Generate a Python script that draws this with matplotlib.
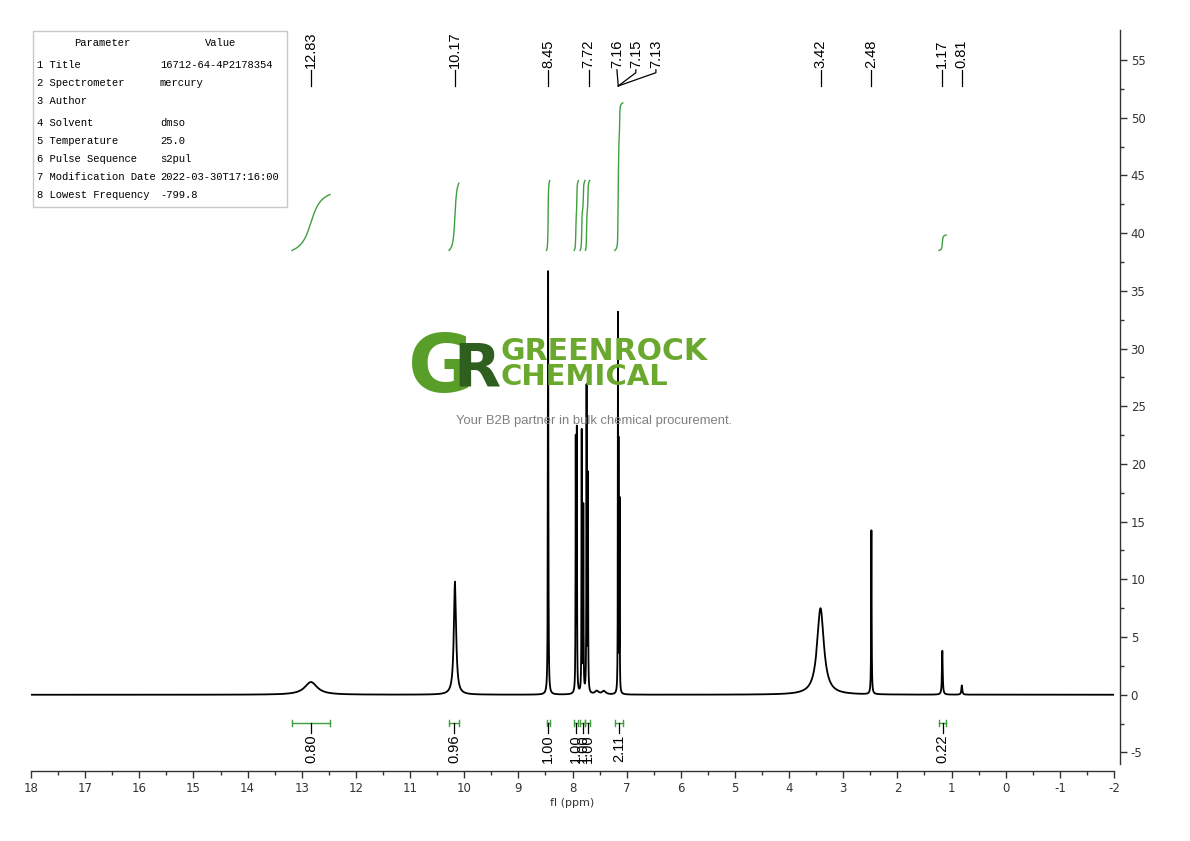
import numpy as np
import matplotlib
matplotlib.use("Agg")
import matplotlib.pyplot as plt
from matplotlib.patches import Rectangle

# ---------------- data ----------------
peak_ppm    = [12.83, 10.17, 8.45, 7.94, 7.92, 7.83, 7.80, 7.74, 7.715, 7.16, 7.15, 7.13, 7.55, 7.42, 3.42, 2.48, 1.17, 0.81]
peak_height = [1.1,   9.8,   36.7, 21.6, 22.4, 22.6, 16.0, 26.3, 18.6,  31.4, 19.4, 16.4, 0.3,  0.3,  7.5,  14.2, 3.8,  0.8]
peak_hwhm   = [0.14,  0.025, 0.005,0.004,0.004,0.004,0.004,0.004,0.004, 0.003,0.003,0.003,0.04, 0.04, 0.075,0.005,0.008,0.01]

peak_labels = ["12.83", "10.17", "8.45", "7.72", "3.42", "2.48", "1.17", "0.81"]
group_labels = ["7.16", "7.15", "7.13"]

int_regions = [(13.18, 12.48), (10.28, 10.10), (8.48, 8.42), (7.97, 7.89),
               (7.86, 7.77), (7.76, 7.68), (7.22, 7.07), (1.23, 1.10)]
int_values = [0.80, 0.96, 1.00, 1.00, 1.00, 1.00, 2.11, 0.22]

x_ticks = list(range(18, -3, -1))
y_ticks = list(range(-5, 56, 5))

param_names = ["1 Title", "2 Spectrometer", "3 Author", "4 Solvent", "5 Temperature",
               "6 Pulse Sequence", "7 Modification Date", "8 Lowest Frequency"]
param_values = ["16712-64-4P2178354", "mercury", "", "dmso", "25.0", "s2pul",
                "2022-03-30T17:16:00", "-799.8"]

# ---------------- figure ----------------
W, H = 1190, 841
fig = plt.figure(figsize=(W / 100, H / 100), dpi=100)
ax = fig.add_axes([31 / W, 1 - 764 / H, 1083 / W, (764 - 30) / H])
ax.set_xlim(18, -2)
ax.set_ylim(-6, 57.6)
ax.patch.set_alpha(0)

narrow = ['Liberation Sans Narrow', 'DejaVu Sans']
sans = ['Liberation Sans', 'DejaVu Sans']
green = '#3f9f3f'

# spectrum
ppm = np.linspace(-2, 18, 40001)
spec = np.zeros_like(ppm)
for p, h, w in zip(peak_ppm, peak_height, peak_hwhm):
    spec += h * w**2 / ((ppm - p) ** 2 + w**2)
ax.plot(ppm, spec, color='black', lw=1.3, zorder=5)

# integrals
int_base = 38.5
per_H = 6.06
for (a, b), v in zip(int_regions, int_values):
    m = (ppm <= a) & (ppm >= b)
    xs = ppm[m][::-1]
    ys = spec[m][::-1]
    cum = np.cumsum(ys)
    cum = cum / cum[-1]
    ax.plot(xs, int_base + v * per_H * cum, color=green, lw=1.0, zorder=4)
    yb = -2.45
    ax.plot([a, b], [yb, yb], color=green, lw=1.0)
    ax.plot([a, a], [yb - 0.3, yb + 0.3], color=green, lw=1.0)
    ax.plot([b, b], [yb - 0.3, yb + 0.3], color=green, lw=1.0)
    c = (a + b) / 2
    ax.plot([c, c], [yb, -3.3], color='black', lw=0.9)
    ax.text(c, -3.45, f"{v:.2f}", rotation=90, ha='center', va='top',
            fontsize=10.5, family=sans)

# peak labels
y_tip, y_top = 52.75, 54.15
label_x = {"12.83": 12.83, "10.17": 10.17, "8.45": 8.45, "7.72": 7.70,
           "3.42": 3.42, "2.48": 2.48, "1.17": 1.17, "0.81": 0.81}
for lab in peak_labels:
    x = label_x[lab]
    ax.plot([x, x], [y_tip, y_top], color='black', lw=0.9)
    ax.text(x, y_top + 0.2, lab, rotation=90, ha='center', va='bottom',
            fontsize=10.5, family=sans)
gx = [7.18, 6.83, 6.46]
for i, (lab, x) in enumerate(zip(group_labels, gx)):
    if i == 0:
        ax.plot([x, 7.155], [y_top, y_tip], color='black', lw=0.9)
    else:
        ax.plot([x, x, 7.155], [y_top, y_top - 0.25, y_tip], color='black', lw=0.9)
    ax.text(x, y_top + 0.2, lab, rotation=90, ha='center', va='bottom',
            fontsize=10.5, family=sans)

# axes styling
for s in ['left', 'top']:
    ax.spines[s].set_visible(False)
ax.spines['right'].set_position(('outward', 4))
ax.spines['bottom'].set_position(('outward', 5))
for s in ['right', 'bottom']:
    ax.spines[s].set_color('#333333')
    ax.spines[s].set_linewidth(1.0)
ax.yaxis.tick_right()
ax.set_xticks(x_ticks)
ax.set_xticklabels([str(t) for t in x_ticks])
ax.set_xticks(np.arange(17.5, -2, -1.0), minor=True)
ax.set_yticks(y_ticks)
ax.set_yticklabels([str(t) for t in y_ticks])
ax.set_yticks(np.arange(-2.5, 57, 5.0), minor=True)
ax.tick_params(axis='both', which='major', length=5, width=1, color='#333333',
               labelsize=8.5, direction='out', pad=3)
ax.tick_params(axis='both', which='minor', length=3, width=1, color='#333333', direction='out')
ax.tick_params(axis='y', right=True, left=False, labelright=True, labelleft=False)
for lbl in ax.get_xticklabels() + ax.get_yticklabels():
    lbl.set_family(narrow)
    lbl.set_color('#333333')
ax.set_xlabel("fl (ppm)", fontsize=8, family=narrow, color='#333333', labelpad=2)

# parameter table
fig.patches.append(Rectangle((33 / W, 1 - 207 / H), (287 - 33) / W, (207 - 31) / H,
                             transform=fig.transFigure, fill=False,
                             edgecolor='#c8c8c8', lw=1.0))
mono = ['Liberation Mono', 'DejaVu Sans Mono']
fs_tab = 7.6
fig.text(102 / W, 1 - 43 / H, "Parameter", ha='center', va='center', fontsize=fs_tab, family=mono)
fig.text(221 / W, 1 - 43 / H, "Value", ha='center', va='center', fontsize=fs_tab, family=mono)
rows_y = [65, 83, 101, 123, 141, 159, 177, 195]
for n, v, yy in zip(param_names, param_values, rows_y):
    fig.text(37 / W, 1 - yy / H, n, ha='left', va='center', fontsize=fs_tab, family=mono)
    fig.text(160 / W, 1 - yy / H, v, ha='left', va='center', fontsize=fs_tab, family=mono)

# watermark
fig.text(441 / W, 1 - 370 / H, "G", ha='center', va='center', fontsize=58,
         fontweight='bold', color='#5a9e2a', zorder=0)
fig.text(477 / W, 1 - 370 / H, "R", ha='center', va='center', fontsize=44,
         fontweight='bold', color='#2f5f1f', zorder=0)
fig.text(500 / W, 1 - 352 / H, "GREENROCK", ha='left', va='center', fontsize=21.5,
         fontweight='bold', color='#6aa82e', zorder=0)
fig.text(500 / W, 1 - 377 / H, "CHEMICAL", ha='left', va='center', fontsize=21,
         fontweight='bold', color='#6aa82e', zorder=0)
fig.text(594 / W, 1 - 421 / H, "Your B2B partner in bulk chemical procurement.",
         ha='center', va='center', fontsize=9.4, color='#808080',
         family=sans, zorder=0)

fig.savefig("out.png", dpi=100)
